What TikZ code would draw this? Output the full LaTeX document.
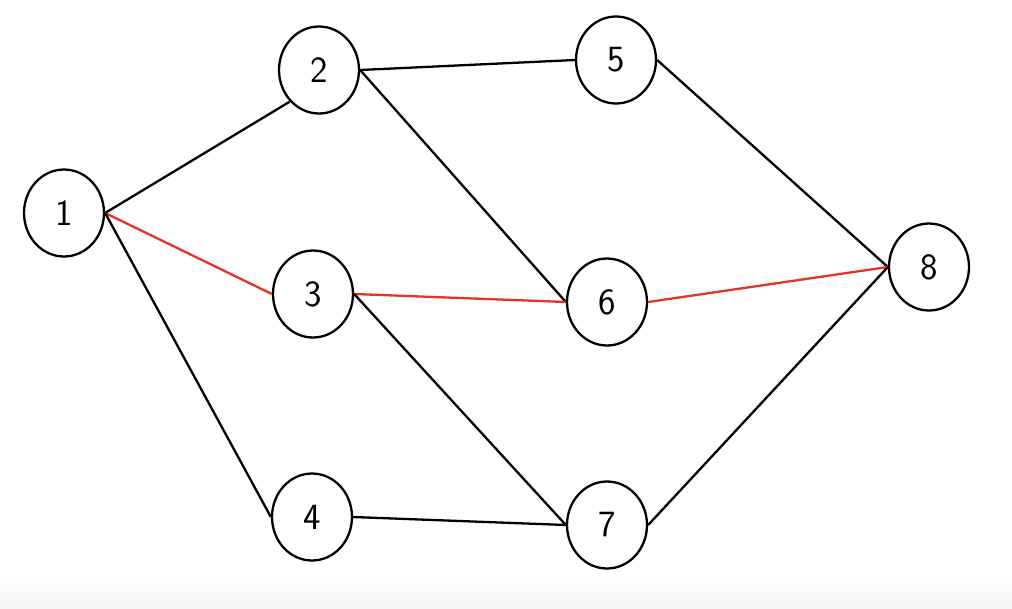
\documentclass[tikz,border=0pt]{standalone}
\usetikzlibrary{shapes.geometric}
\definecolor{pathred}{RGB}{232,50,38}
\begin{document}
\begin{tikzpicture}[x=1pt,y=-1pt,
  vert/.style={ellipse,draw=black,line width=2.3pt,minimum width=80pt,minimum height=87pt,inner sep=0pt,
    font=\fontsize{37}{40}\selectfont\sffamily},
  edge/.style={line width=2.3pt,draw=black},
  redge/.style={line width=2.3pt,draw=pathred}]
\useasboundingbox (0,0) rectangle (1012,608);
\shade[top color=white,bottom color=black!4] (0,572) rectangle (1012,608);
\node[vert] (n1) at (64,213) {\raisebox{-2pt}{1}};
\node[vert] (n2) at (319,70) {\raisebox{-2pt}{2}};
\node[vert] (n3) at (313,294) {\raisebox{-2pt}{3}};
\node[vert] (n4) at (312,517) {\raisebox{-2pt}{4}};
\node[vert] (n5) at (616,60) {\raisebox{-2pt}{5}};
\node[vert] (n6) at (607,302) {\raisebox{-2pt}{6}};
\node[vert] (n7) at (607,525) {\raisebox{-2pt}{7}};
\node[vert] (n8) at (929,267) {\raisebox{-2pt}{8}};
\draw[edge] (n1.east) -- (n2.south west);
\draw[redge] (n1.east) -- (n3.west);
\draw[edge] (n1.east) -- (n4.west);
\draw[edge] (n2.east) -- (n5.west);
\draw[edge] (n2.east) -- (n6.west);
\draw[redge] (n3.east) -- (n6.west);
\draw[edge] (n3.east) -- (n7.west);
\draw[edge] (n4.east) -- (n7.west);
\draw[edge] (n5.east) -- (n8.west);
\draw[redge] (n6.east) -- (n8.west);
\draw[edge] (n7.east) -- (n8.west);
\end{tikzpicture}
\end{document}
